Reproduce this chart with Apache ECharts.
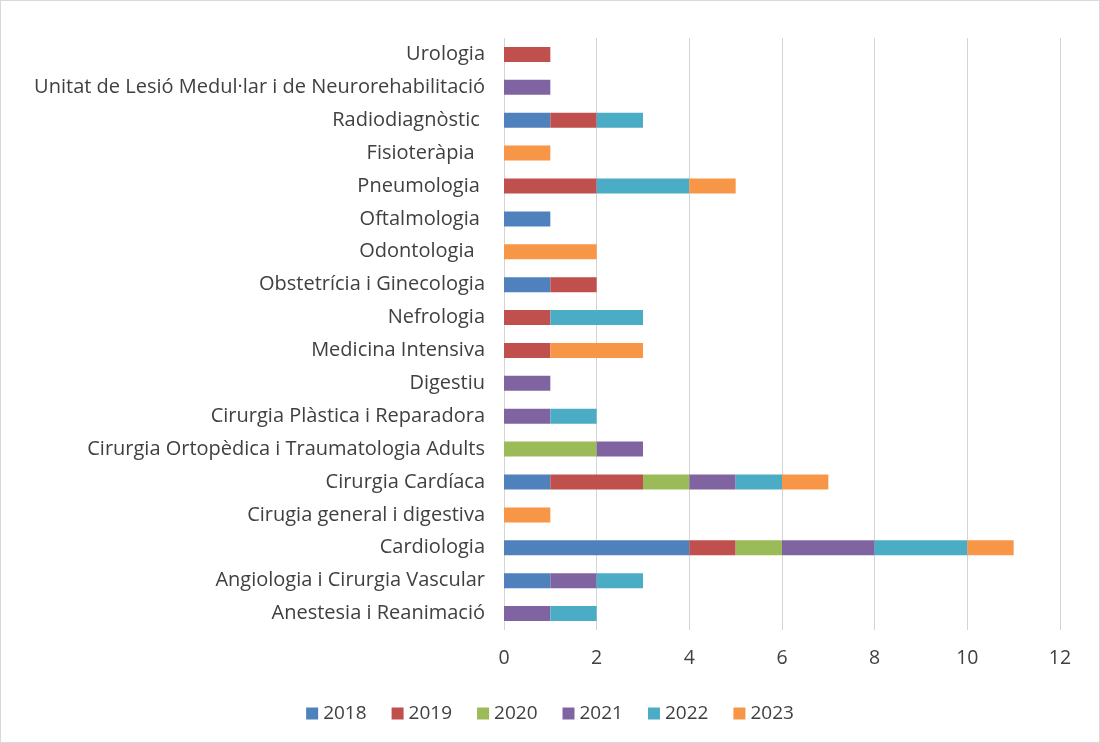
<!DOCTYPE html>
<html>
<head>
<meta charset="utf-8">
<script src="https://cdn.jsdelivr.net/npm/echarts@6/dist/echarts.min.js"></script>
<style>
  html, body { margin: 0; padding: 0; background: #fff; }
  #chart { width: 1100px; height: 743px; box-sizing: border-box; border: 1px solid #d9d9d9; }
</style>
</head>
<body>
<div id="chart"></div>
<script>
// categories, bottom to top (as ECharts draws a category y axis)
const categories = [
  'Anestesia i Reanimació',
  'Angiologia i Cirurgia Vascular',
  'Cardiologia',
  'Cirugia general i digestiva',
  'Cirurgia Cardíaca',
  'Cirurgia Ortopèdica i Traumatologia Adults',
  'Cirurgia Plàstica i Reparadora',
  'Digestiu',
  'Medicina Intensiva',
  'Nefrologia',
  'Obstetrícia i Ginecologia',
  'Odontologia  ',
  'Oftalmologia ',
  'Pneumologia ',
  'Fisioteràpia  ',
  'Radiodiagnòstic ',
  'Unitat de Lesió Medul·lar i de Neurorehabilitació',
  'Urologia'
]
const years = ['2018', '2019', '2020', '2021', '2022', '2023']
const v2018 = [0, 1, 4, 0, 1, 0, 0, 0, 0, 0, 1, 0, 1, 0, 0, 1, 0, 0]
const v2019 = [0, 0, 1, 0, 2, 0, 0, 0, 1, 1, 1, 0, 0, 2, 0, 1, 0, 1]
const v2020 = [0, 0, 1, 0, 1, 2, 0, 0, 0, 0, 0, 0, 0, 0, 0, 0, 0, 0]
const v2021 = [1, 1, 2, 0, 1, 1, 1, 1, 0, 0, 0, 0, 0, 0, 0, 0, 1, 0]
const v2022 = [1, 1, 2, 0, 1, 0, 1, 0, 0, 2, 0, 0, 0, 2, 0, 1, 0, 0]
const v2023 = [0, 0, 1, 1, 1, 0, 0, 0, 2, 0, 0, 2, 0, 1, 1, 0, 0, 0]
const xTicks = [0, 2, 4, 6, 8, 10, 12]

const colors = ['#4f81bd', '#c0504d', '#9bbb59', '#8064a2', '#4bacc6', '#f79646']
const values = [v2018, v2019, v2020, v2021, v2022, v2023]

const chart = echarts.init(document.getElementById('chart'))
chart.setOption({
  animation: false,
  color: colors,
  textStyle: { fontFamily: 'Open Sans', color: '#404040' },
  grid: { left: 503, right: 39, top: 37, bottom: 112, containLabel: false },
  legend: {
    bottom: 14, left: 'center', itemWidth: 12, itemHeight: 12, itemGap: 25,
    icon: 'rect',
    textStyle: { fontSize: 19, color: '#404040', fontFamily: 'Open Sans' },
    data: years
  },
  xAxis: {
    type: 'value', min: xTicks[0], max: xTicks[xTicks.length - 1], interval: 2,
    axisLine: { show: false }, axisTick: { show: false },
    splitLine: { lineStyle: { color: '#d4d4d4', width: 1 } },
    axisLabel: { fontSize: 19.5, color: '#404040', margin: 18 }
  },
  yAxis: {
    type: 'category', data: categories,
    axisLine: { show: false }, axisTick: { show: false },
    axisLabel: { fontSize: 20, color: '#404040', margin: 19 }
  },
  series: years.map((y, i) => ({
    name: y, type: 'bar', stack: 'total', barWidth: 15,
    data: values[i].map((v) => (v === 0 ? null : v))
  }))
})
</script>
</body>
</html>
